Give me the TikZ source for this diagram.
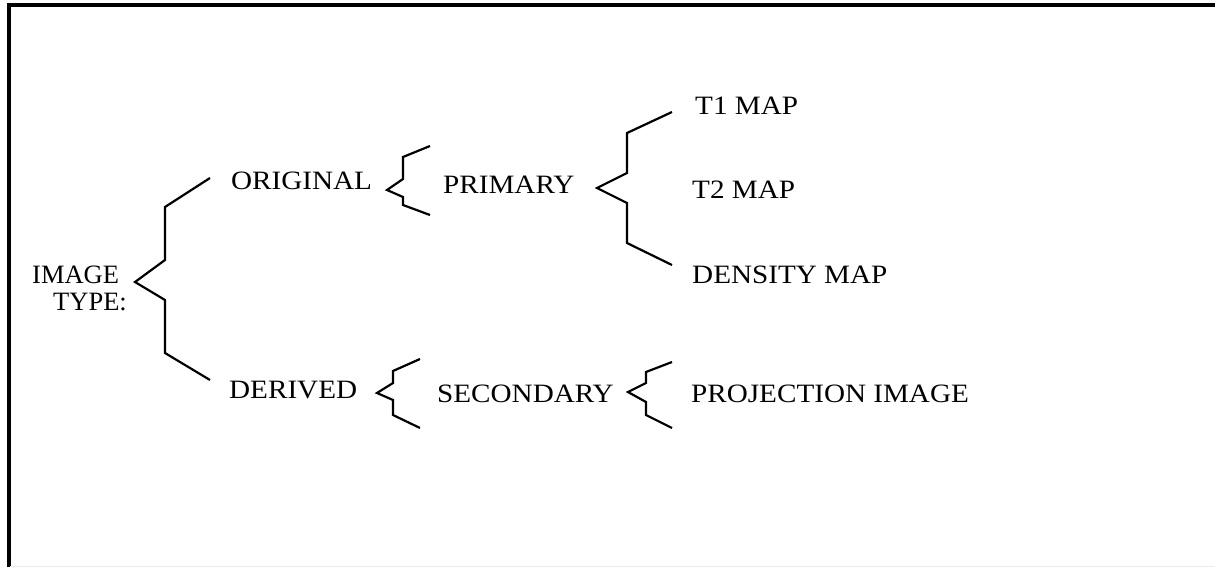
\documentclass[tikz,border=0pt]{standalone}
\usepackage{fontspec}
\setmainfont[FakeStretch=1.1]{Liberation Serif}
\newfontfamily\plainserif{Liberation Serif}
\begin{document}
\begin{tikzpicture}[x=1pt,y=-1pt,
  lbl/.style={anchor=base west, inner sep=0pt, font=\fontsize{26.5}{28}\selectfont},
  plbl/.style={lbl, font=\plainserif\fontsize{26.5}{28}\selectfont},
  brk/.style={draw=black, line width=2.2pt, line join=miter}]
\useasboundingbox (0,0) rectangle (1215,567);
% frame
\draw[line width=4pt] (8.5,567) -- (8.5,5.3) -- (1215,5.3);
\draw[line width=1pt, black!8] (10,566) -- (1215,566);
% labels
\node[plbl] (image) at (32,283) {IMAGE};
\node[plbl] (type) at (53,310) {TYPE:};
\node[lbl] (orig) at (231,189) {ORIGINAL};
\node[lbl] (deriv) at (229,398) {DERIVED};
\node[lbl] (prim) at (443,193) {PRIMARY};
\node[lbl] (sec) at (437,402) {SECONDARY};
\node[lbl] (t1) at (695,115) {T1 MAP};
\node[lbl] (t2) at (692,198) {T2 MAP};
\node[lbl] (dens) at (692,283) {DENSITY MAP};
\node[lbl] (proj) at (691,402) {PROJECTION IMAGE};
% brackets
\draw[brk] (210,178) -- (165,207) -- (165,260) -- (135,282) -- (165,300) -- (165,353) -- (210,380);
\draw[brk] (430,146) -- (403,157) -- (403,179) -- (387,190) -- (403,197) -- (403,205) -- (430,215);
\draw[brk] (672,112) -- (627,133) -- (627,173) -- (597,188) -- (627,203) -- (627,243) -- (672,265);
\draw[brk] (420,359) -- (393,371) -- (393,383) -- (377,393) -- (393,400) -- (393,415) -- (420,428);
\draw[brk] (672,362) -- (646,372) -- (646,383) -- (628,392) -- (646,402) -- (646,415) -- (672,428);
\end{tikzpicture}
\end{document}
